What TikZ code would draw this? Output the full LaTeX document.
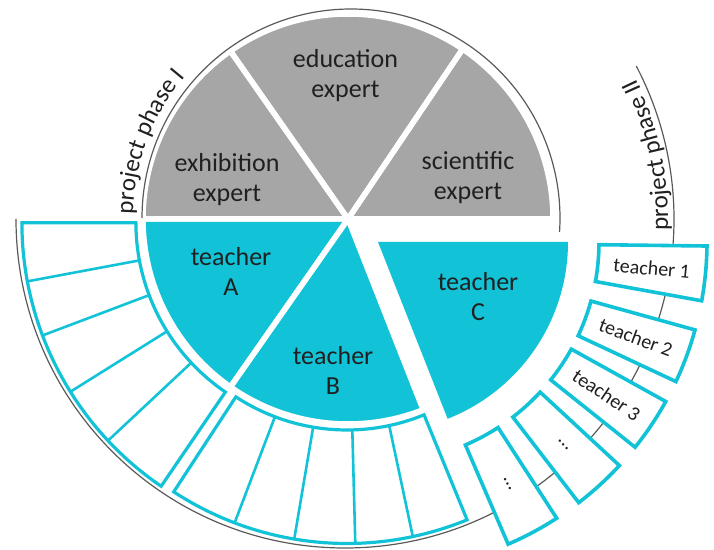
\documentclass[tikz,border=0pt]{standalone}
\usepackage{fontspec}
\setmainfont{Carlito}
\usetikzlibrary{decorations.text}
\definecolor{tcyan}{RGB}{18,195,216}
\definecolor{pgray}{RGB}{166,166,166}
\definecolor{ink}{RGB}{32,32,32}
\definecolor{arcline}{RGB}{90,90,90}

\begin{document}
\begin{tikzpicture}[x=1pt, y=1pt,
  gapline/.style={draw=white, line width=5.5pt, line join=round},
  pielabel/.style={font=\fontsize{26}{30}\selectfont, text=ink, align=center, inner sep=0pt},
  boxlabel/.style={font=\fontsize{20}{22}\selectfont, text=ink, inner sep=0pt},
  groupframe/.style={draw=tcyan, line width=3.2pt, line join=miter},
  slotline/.style={draw=tcyan, line width=2.6pt},
  phasebox/.style={draw=tcyan, fill=white, line width=3.6pt, line join=miter},
  phasearc/.style={draw=arcline, line width=1.2pt}]

\useasboundingbox (0,0) rectangle (714,549);

% centres of the pie, the detached sector and the ring groups
\coordinate (O)  at (348,330);
\coordinate (P)  at (378,307);
\coordinate (GA) at (340.9,326.3);
\coordinate (GB) at (347,322);
\coordinate (Q1) at (351,331);
\coordinate (Q2) at (345,330);

% outer guide arc (phase I ring around the bottom, phase II on the right)
\draw[phasearc] ([shift={(Q2)}]180:329) arc[start angle=180, end angle=387.7, radius=329];

% slots belonging to teacher A
\begin{scope}[shift={(GA)}]
  \foreach \d in {190.6,200.7,212,223.1}
    \draw[slotline] (\d:205) -- (\d:319);
  \draw[groupframe] (180:205) -- (180:319) arc[start angle=180, end angle=235.7, radius=319]
    -- (235.7:205) arc[start angle=235.7, end angle=180, radius=205] -- cycle;
\end{scope}

% slots belonging to teacher B
\begin{scope}[shift={(GB)}]
  \foreach \d in {249.2,260.4,271.5,282}
    \draw[slotline] (\d:203) -- (\d:316.5);
  \draw[groupframe] (236.8:203) -- (236.8:316.5) arc[start angle=236.8, end angle=292.3, radius=316.5]
    -- (292.3:203) arc[start angle=292.3, end angle=236.8, radius=203] -- cycle;
\end{scope}

% phase II boxes around teacher C
\begin{scope}[shift={(P)}]
  \foreach \a/\txt/\nm in {-5.5/teacher 1/tOne, -20.3/teacher 2/tTwo, -33.8/teacher 3/tThree, -47.6/\dots/tFour, -61.9/\dots/tFive}{
    \pgfmathsetmacro\hi{\a+4.8}
    \pgfmathsetmacro\lo{\a-4.8}
    \draw[phasebox] (\hi:221) -- (\hi:329) arc[start angle=\hi, end angle=\lo, radius=329]
      -- (\lo:221) arc[start angle=\lo, end angle=\hi, radius=221] -- cycle;
    \node[boxlabel, rotate=\a] (\nm) at (\a:275) {\txt};
  }
\end{scope}

% pie sectors, filled first, then separated by white gaps
\begin{scope}[shift={(O)}]
  \foreach \s/\e/\c in {0/56/pgray, 56/125/pgray, 125/180/pgray, 180/235/tcyan, 235/291.5/tcyan}
    \fill[\c] (0,0) -- (\s:205) arc[start angle=\s, end angle=\e, radius=205] -- cycle;
  \foreach \s/\e in {0/56, 56/125, 125/180, 180/235, 235/291.5}
    \draw[gapline] (0,0) -- (\s:205) arc[start angle=\s, end angle=\e, radius=205] -- cycle;
\end{scope}

% detached sector of teacher C
\fill[tcyan] (P) -- ([shift={(P)}]-68.5:190) arc[start angle=-68.5, end angle=0, radius=190] -- cycle;

% inner guide arc of phase I
\draw[phasearc] ([shift={(Q1)}]180:209) arc[start angle=180, end angle=-3.8, radius=209];

% sector labels
\node[pielabel] (edu) at (345.5,473) {education\\expert};
\node[pielabel] (exh) at (227,369) {exhibition\\expert};
\node[pielabel] (sci) at (468,371) {scientific\\expert};
\node[pielabel] (tA) at (231,278) {teacher\\A};
\node[pielabel] (tB) at (333,179) {teacher\\B};
\node[pielabel] (tC) at (478,252) {teacher\\C};

% phase captions following the arcs
\path[decorate, decoration={text along path, text color=ink,
    text={|\fontsize{25}{30}\selectfont|project phase I}}]
  ([shift={(Q1)}]179:218) arc[start angle=179, end angle=120, radius=218];
\path[decorate, decoration={text along path, text color=ink,
    text={|\fontsize{25}{30}\selectfont|project phase II}}]
  ([shift={(Q2)}]-2:323) arc[start angle=-2, end angle=40, radius=323];

\end{tikzpicture}
\end{document}
